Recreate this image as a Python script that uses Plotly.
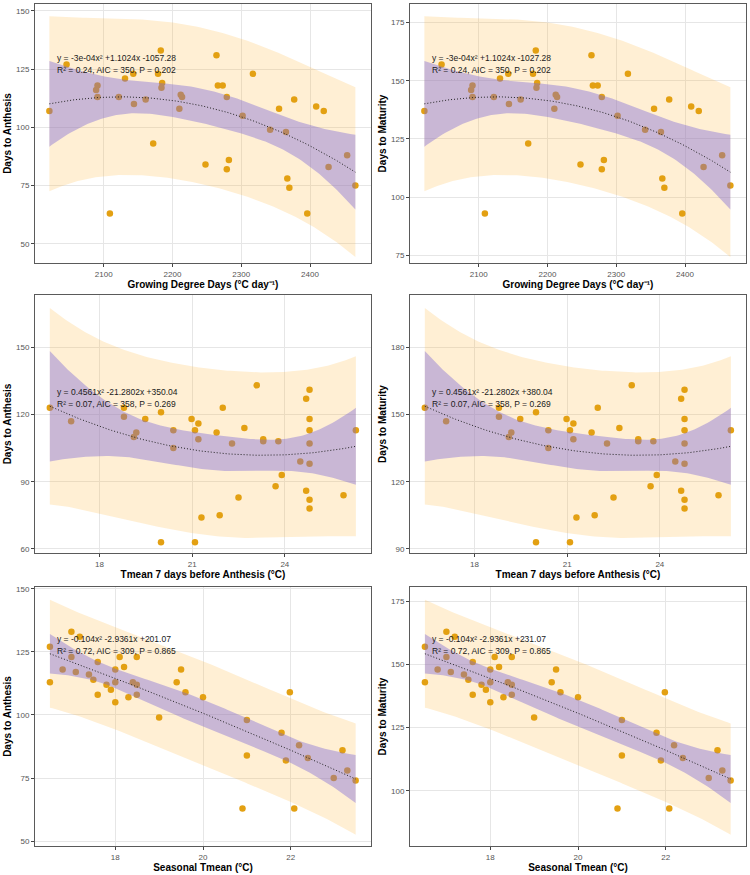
import numpy as np
import plotly.graph_objects as go

# ---------------- data ----------------
gdd = [2021, 2046, 2089, 2091, 2091, 2109, 2122, 2131, 2143, 2144, 2161, 2172, 2179, 2183,
       2184, 2185, 2210, 2212, 2214, 2248, 2264, 2266, 2273, 2279, 2279, 2282, 2302, 2317,
       2342, 2355, 2365, 2367, 2370, 2377, 2396, 2409, 2420, 2427, 2454, 2466]
anthesis_gdd = [107, 127, 116, 118, 113, 63, 113, 121, 123, 110, 112, 93, 123, 133,
                117, 119, 108, 114, 113, 84, 131, 118, 118, 113, 82, 86, 105, 123,
                99, 108, 98, 78, 74, 112, 63, 109, 107, 83, 88, 75]
maturity_gdd = [137, 157, 146, 148, 143, 93, 143, 151, 153, 140, 142, 123, 153, 163,
                147, 149, 138, 144, 143, 114, 161, 148, 148, 143, 112, 116, 135, 153,
                129, 138, 128, 108, 104, 142, 93, 139, 137, 113, 118, 105]

tmean7 = [16.39, 17.08, 18.79, 18.79, 19.11, 19.19, 19.48, 19.99, 19.99, 20.39, 20.39,
          20.98, 21.09, 21.09, 21.2, 21.2, 21.3, 21.79, 21.89, 21.99, 22.29, 22.5, 22.69,
          23.09, 23.3, 23.3, 23.7, 23.79, 23.9, 24.5, 24.69, 24.69, 24.8, 24.8, 24.8, 24.8,
          24.8, 24.8, 24.8, 25.9, 26.3]
anthesis_t7 = [123, 117, 123, 119, 110, 112, 118, 121, 63, 113, 105, 118, 113, 63, 116, 109,
               74, 112, 75, 123, 107, 83, 114, 133, 109, 108, 88, 108, 93, 99, 127, 86, 131,
               118, 113, 107, 98, 82, 78, 84, 113]
maturity_t7 = [153, 147, 153, 149, 140, 142, 148, 151, 93, 143, 135, 148, 143, 93, 146, 139,
               104, 142, 105, 153, 137, 113, 144, 163, 139, 138, 118, 138, 123, 129, 157, 116,
               161, 148, 143, 137, 128, 112, 108, 114, 143]

tseason = [16.51, 16.51, 16.8, 17.0, 17.0, 17.1, 17.19, 17.4, 17.5, 17.6, 17.6, 17.8, 17.9,
           18.0, 18.0, 18.0, 18.1, 18.2, 18.3, 18.4, 18.49, 18.49, 18.49, 19.0, 19.4, 19.5,
           19.6, 20.0, 20.9, 21.0, 21.0, 21.79, 21.89, 21.98, 22.08, 22.19, 22.39, 22.98,
           23.18, 23.29, 23.48]
anthesis_season = [127, 113, 118, 133, 123, 117, 131, 116, 114, 121, 108, 112, 110, 118, 113,
                   105, 123, 119, 107, 113, 112, 123, 108, 99, 113, 118, 109, 107, 63, 98, 84,
                   93, 82, 109, 63, 88, 83, 75, 86, 78, 74]
maturity_season = [157, 143, 148, 163, 153, 147, 161, 146, 144, 151, 138, 142, 140, 148, 143,
                   135, 153, 149, 137, 143, 142, 153, 138, 129, 143, 148, 139, 137, 93, 128, 114,
                   123, 112, 139, 93, 118, 113, 105, 116, 108, 104]

x_titles = ["Growing Degree Days (°C day⁻¹)", "Tmean 7 days before Anthesis (°C)", "Seasonal Tmean (°C)"]
y_titles = ["Days to Anthesis", "Days to Maturity"]
equations = [
    ["y = -3e-04x² +1.1024x -1057.28", "y = -3e-04x² +1.1024x -1027.28"],
    ["y = 0.4561x² -21.2802x +350.04", "y = 0.4561x² -21.2802x +380.04"],
    ["y = -0.104x² -2.9361x +201.07", "y = -0.104x² -2.9361x +231.07"],
]
stats = [
    "R² = 0.24, AIC = 350, P = 0.202",
    "R² = 0.07, AIC = 358, P = 0.269",
    "R² = 0.72, AIC = 309, P = 0.865",
]
label_y = [130, 160]
x_tickvals = [[2100, 2200, 2300, 2400], [18, 21, 24], [18, 20, 22]]
y_tickvals = [
    [[50, 75, 100, 125, 150], [75, 100, 125, 150, 175]],
    [[60, 90, 120, 150], [90, 120, 150, 180]],
    [[50, 75, 100, 125, 150], [100, 125, 150, 175]],
]

rows_data = [
    (gdd, [anthesis_gdd, maturity_gdd]),
    (tmean7, [anthesis_t7, maturity_t7]),
    (tseason, [anthesis_season, maturity_season]),
]

# ---------------- style / layout ----------------
W, H = 750, 875
col_px = [(35, 371), (410, 746)]
row_px = [(4, 263), (295, 553), (587, 846)]
x_ranges = [(2000.1, 2488.7), (15.91, 26.79), (16.17, 23.83)]
y_ranges = [
    [(41.7, 153.0), (71.7, 183.0)],
    [(58.2, 173.3), (88.2, 203.3)],
    [(48.1, 150.7), (78.1, 180.7)],
]
POINT = "#E3A012"
BAND_PI = "rgba(255,175,40,0.20)"
BAND_CI = "rgba(120,100,215,0.40)"
FONT = "Liberation Sans, Arial, sans-serif"


def quad_fit(x, y, n_grid=120):
    """Quadratic OLS fit with 95% confidence and prediction intervals."""
    x = np.asarray(x, float)
    y = np.asarray(y, float)
    xm = x.mean()
    X = np.column_stack([np.ones_like(x), x - xm, (x - xm) ** 2])
    beta, *_ = np.linalg.lstsq(X, y, rcond=None)
    resid = y - X @ beta
    df = len(x) - 3
    s2 = (resid ** 2).sum() / df
    inv = np.linalg.inv(X.T @ X)
    xg = np.linspace(x.min(), x.max(), n_grid)
    G = np.column_stack([np.ones_like(xg), xg - xm, (xg - xm) ** 2])
    fit = G @ beta
    h = np.einsum("ij,jk,ik->i", G, inv, G)
    z = 1.959964
    t = z + (z ** 3 + z) / (4 * df)
    ci = t * np.sqrt(s2 * h)
    pi = t * np.sqrt(s2 * (1 + h))
    return xg, fit, fit - ci, fit + ci, fit - pi, fit + pi


fig = go.Figure()
layout = {}
annotations = []
k = 0
for r, (xv, ys) in enumerate(rows_data):
    for c in range(2):
        k += 1
        yv = ys[c]
        xa = "x" if k == 1 else f"x{k}"
        ya = "y" if k == 1 else f"y{k}"
        xg, fit, clo, chi, plo, phi = quad_fit(xv, yv)
        xs = list(xg) + list(xg[::-1])
        fig.add_trace(go.Scatter(x=xs, y=list(phi) + list(plo[::-1]), fill="toself",
                                 fillcolor=BAND_PI, line=dict(width=0), mode="lines",
                                 hoverinfo="skip", showlegend=False, xaxis=xa, yaxis=ya))
        fig.add_trace(go.Scatter(x=xv, y=yv, mode="markers",
                                 marker=dict(color=POINT, size=6.5, line=dict(width=0)),
                                 showlegend=False, xaxis=xa, yaxis=ya))
        fig.add_trace(go.Scatter(x=xs, y=list(chi) + list(clo[::-1]), fill="toself",
                                 fillcolor=BAND_CI, line=dict(width=0), mode="lines",
                                 hoverinfo="skip", showlegend=False, xaxis=xa, yaxis=ya))
        fig.add_trace(go.Scatter(x=xg, y=fit, mode="lines",
                                 line=dict(color="#222222", width=1, dash="1px,2px"),
                                 showlegend=False, xaxis=xa, yaxis=ya))
        x0, x1 = col_px[c]
        y0, y1 = row_px[r]
        axis_common = dict(showline=True, mirror=True, linecolor="#5a5a5a", linewidth=1,
                           ticks="outside", ticklen=3, tickwidth=1, tickcolor="#444444",
                           showgrid=True, gridcolor="#E6E6E6", gridwidth=1, zeroline=False,
                           automargin=False,
                           tickfont=dict(family=FONT, size=8, color="#555555"))
        layout["xaxis" if k == 1 else f"xaxis{k}"] = dict(
            axis_common, domain=[x0 / W, x1 / W], anchor=ya,
            range=list(x_ranges[r]), tickmode="array", tickvals=x_tickvals[r],
            title=dict(text=x_titles[r], standoff=2,
                       font=dict(family=FONT, size=10, color="#000000", weight="bold")))
        layout["yaxis" if k == 1 else f"yaxis{k}"] = dict(
            axis_common, domain=[1 - y1 / H, 1 - y0 / H], anchor=xa,
            range=list(y_ranges[r][c]), tickmode="array", tickvals=y_tickvals[r][c],
            title=dict(text=y_titles[c], standoff=2,
                       font=dict(family=FONT, size=10, color="#000000", weight="bold")))
        annotations.append(dict(text=equations[r][c], xref=f"{xa} domain", yref=ya,
                                x=0.06, y=label_y[c], xanchor="left", yanchor="middle",
                                showarrow=False, font=dict(family=FONT, size=8.5, color="#1a1a1a")))
        annotations.append(dict(text=stats[r], xref=f"{xa} domain", yref=ya,
                                x=0.06, y=label_y[c], yshift=-12, xanchor="left", yanchor="middle",
                                showarrow=False, font=dict(family=FONT, size=8.5, color="#1a1a1a")))

fig.update_layout(**layout)
fig.update_layout(width=W, height=H, margin=dict(l=0, r=0, t=0, b=0),
                  paper_bgcolor="white", plot_bgcolor="white", showlegend=False,
                  annotations=annotations, font=dict(family=FONT))
fig.write_html("out.html")
